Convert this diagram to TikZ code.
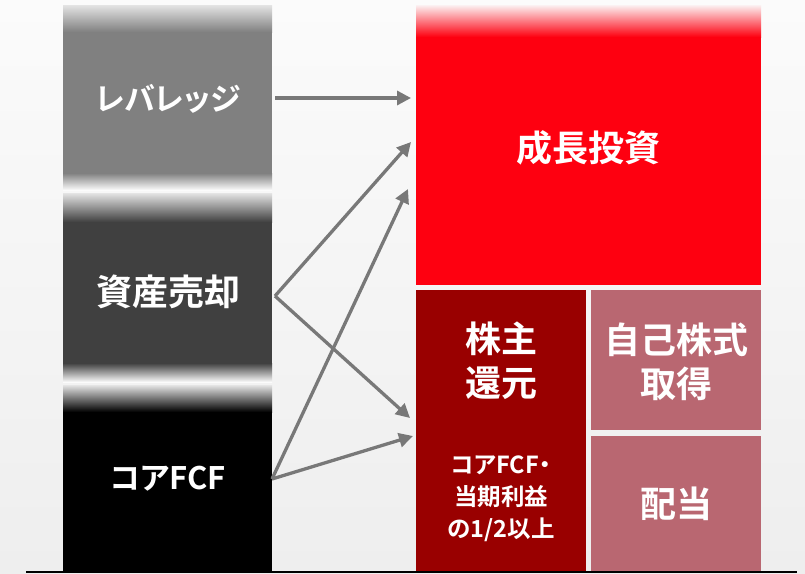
\documentclass[tikz,border=0pt]{standalone}
\usepackage{fontspec}
\usepackage{xcolor}
\usetikzlibrary{arrows.meta}
\newfontfamily\cjk{Noto Sans CJK JP}[BoldFont={Noto Sans CJK JP Bold},RawFeature=+palt]
\definecolor{bgtop}{HTML}{FBFBFB}
\definecolor{bgbottom}{HTML}{EEEEEE}
\definecolor{fadegray}{HTML}{E4E4E4}
\definecolor{levgray}{HTML}{808080}
\definecolor{assetgray}{HTML}{404040}
\definecolor{growred}{HTML}{FE0010}
\definecolor{retred}{HTML}{990000}
\definecolor{buypink}{HTML}{B96771}
\definecolor{arrowgray}{HTML}{787878}

\begin{document}
\begin{tikzpicture}[x=1pt, y=-1pt,
		label/.style={text=white, font=\cjk\bfseries\fontsize{36}{44}\selectfont, align=center, inner sep=0},
		kanalabel/.style={label, font=\cjk\bfseries\fontsize{31}{40}\selectfont},
		smalllabel/.style={text=white, font=\cjk\bfseries\fontsize{23.5}{32}\selectfont, align=center, inner sep=0},
		flow/.style={draw=arrowgray, line width=3.3pt, -{Triangle[length=14pt, width=14pt]}}]
			\useasboundingbox (0,0) rectangle (805,573);
			\shade[top color=bgtop, bottom color=bgbottom] (0,0) rectangle (805,573);
			% left column
			\shade[top color=fadegray, bottom color=levgray] (63,5) rectangle (272,32);
			\fill[levgray] (63,32) rectangle (272,173);
			\shade[top color=levgray, bottom color=bgtop] (63,173) rectangle (272,190);
			\shade[top color=fadegray, bottom color=assetgray] (63,193) rectangle (272,222);
			\fill[assetgray] (63,222) rectangle (272,363);
			\shade[top color=assetgray, bottom color=bgtop] (63,363) rectangle (272,382);
			\shade[top color=fadegray, bottom color=black] (63,385) rectangle (272,412);
			\fill[black] (63,412) rectangle (272,571);
			% right column
			\shade[top color=growred!4!bgtop, bottom color=growred] (416,5) rectangle (761,37);
			\fill[growred] (416,37) rectangle (761,285);
			\fill[retred] (416,290) rectangle (586,571);
			\fill[buypink] (591,290) rectangle (761,430);
			\fill[buypink] (591,436) rectangle (761,571);
			\draw[line width=2pt] (26,571.5) -- (797,571.5);
			% labels
			\node (lev) [kanalabel] at (168,99) {レバレッジ};
			\node (asset) [label] at (168,292) {資産売却};
			\node (core) [kanalabel] at (168,479) {コアFCF};
			\node (growth) [label] at (588,148) {成長投資};
			\node (ret) [label] at (501,361) {株主\\還元};
			\node (retrule) [smalllabel] at (501,499) {コアFCF・\\当期利益\\の1/2以上};
			\node (buyback) [label] at (676,362) {自己株式\\取得};
			\node (dividend) [label] at (676,504) {配当};
			% arrows
			\coordinate (levout) at (275,98);
			\coordinate (assetout) at (275,296);
			\coordinate (coreout) at (272,479);
			\coordinate (growin1) at (411,98);
			\coordinate (growin2) at (411,142);
			\coordinate (growin3) at (408,189);
			\coordinate (retin1) at (410,418);
			\coordinate (retin2) at (413,436);
			\draw[flow] (levout) -- (growin1);
			\draw[flow] (assetout) -- (growin2);
			\draw[flow] (assetout) -- (retin1);
			\draw[flow] (coreout) -- (growin3);
			\draw[flow] (coreout) -- (retin2);
		\end{tikzpicture}
\end{document}
